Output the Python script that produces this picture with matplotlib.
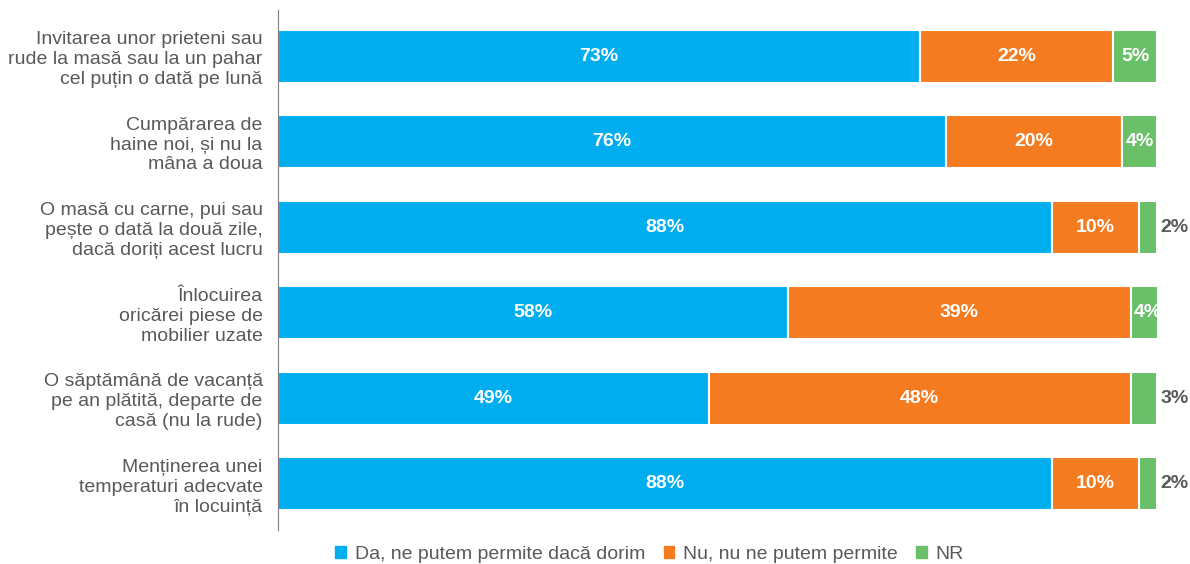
import matplotlib.pyplot as plt
from matplotlib.patches import Patch

plt.rcParams['font.family'] = ['Liberation Sans', 'DejaVu Sans']

categories = [
    'Invitarea unor prieteni sau\nrude la masă sau la un pahar\ncel puțin o dată pe lună',
    'Cumpărarea de\nhaine noi, și nu la\nmâna a doua',
    'O masă cu carne, pui sau\npește o dată la două zile,\ndacă doriți acest lucru',
    'Înlocuirea\noricărei piese de\nmobilier uzate',
    'O săptămână de vacanță\npe an plătită, departe de\ncasă (nu la rude)',
    'Menținerea unei\ntemperaturi adecvate\nîn locuință',
]
da = [73, 76, 88, 58, 49, 88]
nu = [22, 20, 10, 39, 48, 10]
nr = [5, 4, 2, 4, 3, 2]
series_names = ['Da, ne putem permite dacă dorim', 'Nu, nu ne putem permite', 'NR']
colors = ['#00AEEF', '#F47B20', '#6ABF69']
grey = '#595959'

fig = plt.figure(figsize=(11.9, 5.64), dpi=100)
ax = fig.add_axes([0.2336, 0.0603, 0.7387, 0.922])

y = list(range(len(categories)))
left = [0] * len(categories)
for vals, c, name in zip([da, nu, nr], colors, series_names):
    bars = ax.barh(y, vals, left=left, height=0.62, color=c, edgecolor='white',
                   linewidth=1.5, label=name)
    for b, v, l in zip(bars, vals, left):
        cy = b.get_y() + b.get_height() / 2
        if v >= 4:
            ax.text(l + v / 2, cy, f'{v}%', ha='center', va='center',
                    color='white', fontsize=14, fontweight='bold')
        else:
            ax.text(l + v + 0.4, cy, f'{v}%', ha='left', va='center',
                    color=grey, fontsize=14, fontweight='bold', clip_on=False)
    left = [a + b for a, b in zip(left, vals)]

ax.set_xlim(0, 100)
ax.set_ylim(5.54, -0.54)
ax.set_yticks(y)
ax.set_yticklabels(categories, fontsize=14, color=grey, linespacing=1.22)
ax.tick_params(axis='y', length=0, pad=11)
ax.set_xticks([])
for s in ['top', 'right', 'bottom']:
    ax.spines[s].set_visible(False)
ax.spines['left'].set_color('#7f7f7f')

handles = [Patch(color=c) for c in colors]
fig.legend(handles, series_names, loc='center', bbox_to_anchor=(0.546, 0.017),
           ncol=3, frameon=False, fontsize=14, handlelength=0.55, handleheight=0.55,
           handletextpad=0.45, columnspacing=0.95, labelcolor=grey)

fig.savefig('out.png', dpi=100)
